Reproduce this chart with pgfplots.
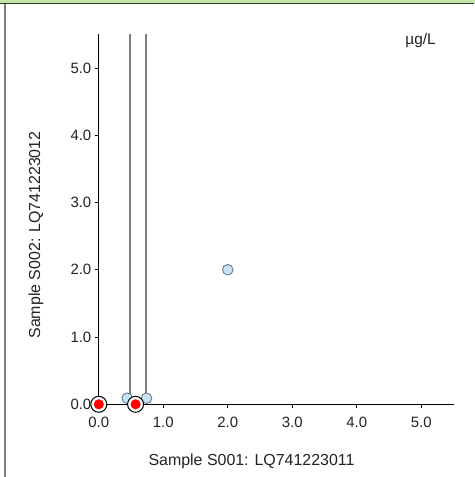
\documentclass[border=0pt]{standalone}
\usepackage{pgfplots}
\pgfplotsset{compat=1.18}
\usepackage{fontspec}
\setmainfont{Liberation Sans}
\definecolor{bandgreen}{HTML}{C8E6A8}
\definecolor{bandline}{HTML}{2E3A24}
\definecolor{framegray}{HTML}{808080}
\definecolor{ptblue}{HTML}{C8E2F6}
\definecolor{ptedge}{HTML}{5E6E7C}
\definecolor{txt}{HTML}{222222}
\begin{document}
\begin{tikzpicture}
\path[use as bounding box] (0,0) rectangle (475bp,477bp);
\fill[bandgreen] (0,473.5bp) rectangle (475bp,477bp);
\draw[bandline, line width=1bp] (0,473.5bp) -- (474bp,473.5bp);
\draw[framegray, line width=2bp] (4.5bp,0) -- (4.5bp,473bp);
\begin{axis}[
  at={(98.8bp,72.7bp)}, anchor=south west,
  scale only axis, width=354.75bp, height=370bp,
  xmin=0, xmax=5.5, ymin=0, ymax=5.5,
  axis lines=left, axis line style={-, black, line width=0.9bp},
  axis on top, clip=false,
  xtick={0,1,2,3,4,5}, ytick={0,1,2,3,4,5},
  tick align=outside, major tick length=4bp,
  tick style={black, line width=0.8bp},
  xticklabel style={font=\fontsize{15}{17}\selectfont, text=txt, yshift=-5bp},
  yticklabel style={font=\fontsize{15}{17}\selectfont, text=txt},
  /pgf/number format/assume math mode=true,
  /pgf/number format/.cd, fixed, fixed zerofill, precision=1, /pgfplots/.cd,
  xlabel={Sample S001: LQ741223011},
  ylabel={Sample S002: LQ741223012},
  xlabel style={at={(axis description cs:0.4305,-0.1532)}, anchor=center, font=\fontsize{16}{19}\selectfont, text=txt},
  ylabel style={at={(axis description cs:-0.177,0.4576)}, anchor=center, font=\fontsize{16}{19}\selectfont, text=txt},
]
% limit lines
\addplot[framegray, line width=1.6bp, no marks] coordinates {(0.48,0.09) (0.48,5.5)};
\addplot[framegray, line width=1.6bp, no marks] coordinates {(0.73,0.09) (0.73,5.5)};
% sample points
\addplot[only marks, mark=*, mark size=5.3bp, mark options={fill=ptblue, draw=ptedge, line width=0.8bp}] coordinates {(0.44,0.09) (0.74,0.09) (2.0,2.0)};
% flagged points
\addplot[only marks, mark=*, mark size=8bp, mark options={fill=white, draw=black, line width=1bp}] coordinates {(0,0) (0.57,0)};
\addplot[only marks, mark=*, mark size=4.8bp, mark options={fill=red, draw=red}] coordinates {(0,0) (0.57,0)};
\node[font=\fontsize{15.5}{18}\selectfont, text=txt, anchor=center] at (axis cs:4.99,5.41) {µg/L};
\end{axis}
\end{tikzpicture}
\end{document}
